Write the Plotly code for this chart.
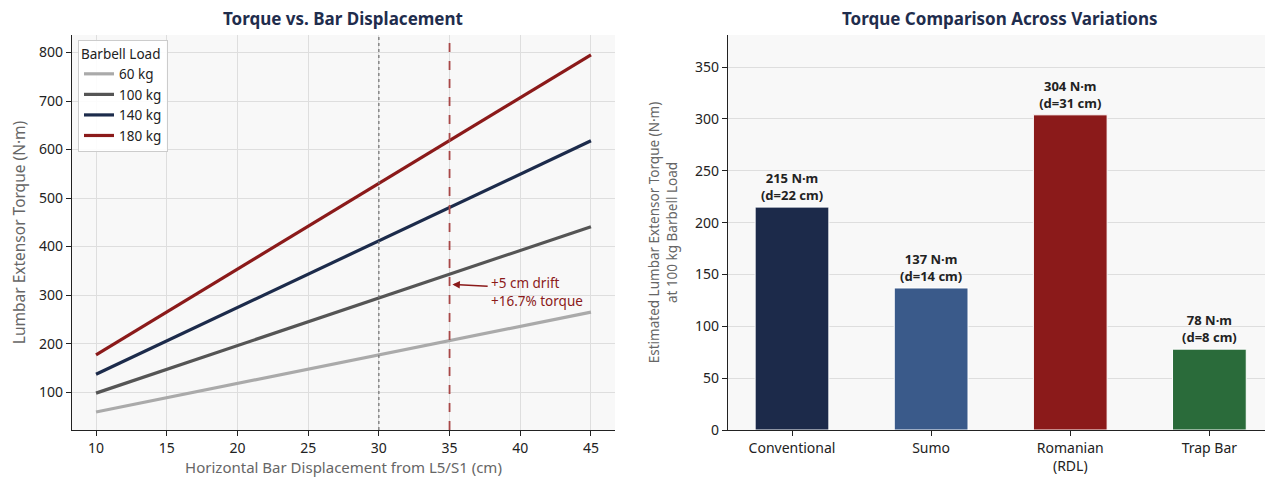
import plotly.graph_objects as go

# ---- data ----
displacement_cm = [10, 45]
loads = ["60 kg", "100 kg", "140 kg", "180 kg"]
torque_60 = [59, 265]
torque_100 = [98, 441]
torque_140 = [137, 618]
torque_180 = [177, 795]
line_colors = ["#aaaaaa", "#555555", "#1c2b4b", "#8b1a1a"]

variations = ["Conventional", "Sumo", "Romanian<br>(RDL)", "Trap Bar"]
bar_torque = [215, 137, 304, 78]
bar_distance_cm = [22, 14, 31, 8]
bar_colors = ["#1c2a4a", "#3a5a8a", "#8b1a1a", "#2a6b3a"]

x_ticks = [10, 15, 20, 25, 30, 35, 40, 45]
y_ticks_left = [100, 200, 300, 400, 500, 600, 700, 800]
y_ticks_right = [0, 50, 100, 150, 200, 250, 300, 350]

FONT = "Noto Sans"
OFF = 8  # page body margin
W, H = 1273 - OFF, 485 - OFF


def fx(px):
    return (px - OFF) / W


def fy(py):
    return 1 - (py - OFF) / H


fig = go.Figure()

series = [torque_60, torque_100, torque_140, torque_180]
for name, vals, col in zip(loads, series, line_colors):
    fig.add_trace(go.Scatter(x=displacement_cm, y=vals, mode="lines", name=name,
                             line=dict(color=col, width=3.2), xaxis="x", yaxis="y"))

fig.add_trace(go.Bar(
    x=variations, y=bar_torque, marker=dict(color=bar_colors, line=dict(color="white", width=1)),
    width=0.53, xaxis="x2", yaxis="y2", showlegend=False,
    text=[f"<b>{t} N·m<br>(d={d} cm)</b>" for t, d in zip(bar_torque, bar_distance_cm)],
    textposition="outside", textfont=dict(size=13, color="#222222", family=FONT),
    cliponaxis=False,
))

ydom = [fy(430), fy(35)]

# reference lines
fig.add_shape(type="line", xref="x", yref="paper", x0=30, x1=30, y0=ydom[0], y1=ydom[1],
              line=dict(color="#777777", width=1.3, dash="dot"))
fig.add_shape(type="line", xref="x", yref="paper", x0=35, x1=35, y0=ydom[0], y1=ydom[1],
              line=dict(color="#a84848", width=1.8, dash="dash"))

fig.add_annotation(x=35.2, y=322, xref="x", yref="y", ax=37.8, ay=318, axref="x", ayref="y",
                   text="", showarrow=True, arrowhead=2, arrowsize=1, arrowwidth=1.5,
                   arrowcolor="#8b1a1a")
fig.add_annotation(x=37.8, y=306, xref="x", yref="y", text="+5 cm drift<br>+16.7% torque",
                   showarrow=False, xanchor="left", align="left",
                   font=dict(size=13.5, color="#8b1a1a", family=FONT))

# titles
fig.add_annotation(x=fx(343), y=fy(19), xref="paper", yref="paper", showarrow=False,
                   xanchor="center", yanchor="middle",
                   text="<b>Torque vs. Bar Displacement</b>",
                   font=dict(size=17, color="#1f2d4d", family=FONT))
fig.add_annotation(x=fx(1000), y=fy(19), xref="paper", yref="paper", showarrow=False,
                   xanchor="center", yanchor="middle",
                   text="<b>Torque Comparison Across Variations</b>",
                   font=dict(size=17, color="#1f2d4d", family=FONT))

axis_common = dict(showline=True, linecolor="#222222", linewidth=1.3, ticks="outside",
                   ticklen=5, tickcolor="#222222", automargin=False,
                   tickfont=dict(size=14, color="#222222", family=FONT), zeroline=False)

fig.update_layout(
    width=W, height=H, margin=dict(l=0, r=0, t=0, b=0, autoexpand=False),
    paper_bgcolor="white", plot_bgcolor="#f8f8f8",
    font=dict(family=FONT),
    xaxis=dict(domain=[fx(72), fx(615)], range=[8.3, 46.7], tickvals=x_ticks,
               showgrid=True, gridcolor="#dedede", gridwidth=1,
               title=dict(text="Horizontal Bar Displacement from L5/S1 (cm)",
                          font=dict(size=15, color="#666666", family=FONT), standoff=6),
               anchor="y", **axis_common),
    yaxis=dict(domain=ydom, range=[22, 836], tickvals=y_ticks_left,
               showgrid=True, gridcolor="#dedede", gridwidth=1,
               title=dict(text="Lumbar Extensor Torque (N·m)",
                          font=dict(size=15.5, color="#666666", family=FONT), standoff=10),
               anchor="x", **axis_common),
    xaxis2=dict(domain=[fx(728), fx(1272)], range=[-0.46, 3.45], showgrid=False,
                anchor="y2", **axis_common),
    yaxis2=dict(domain=ydom, range=[0, 381], tickvals=y_ticks_right,
                showgrid=True, gridcolor="#dedede", gridwidth=1,
                title=dict(text="Estimated Lumbar Extensor Torque (N·m)<br>at 100 kg Barbell Load",
                           font=dict(size=13.5, color="#666666", family=FONT), standoff=14),
                anchor="x2", **axis_common),
    legend=dict(x=fx(78), y=fy(40), xanchor="left", yanchor="top",
                bgcolor="rgba(255,255,255,0.9)", bordercolor="#cccccc", borderwidth=1,
                title=dict(text="Barbell Load", font=dict(size=13.5, color="#222222", family=FONT)),
                font=dict(size=13.5, color="#222222", family=FONT), tracegroupgap=0,
                itemwidth=30),
    showlegend=True,
)

fig.write_html("out.html")
